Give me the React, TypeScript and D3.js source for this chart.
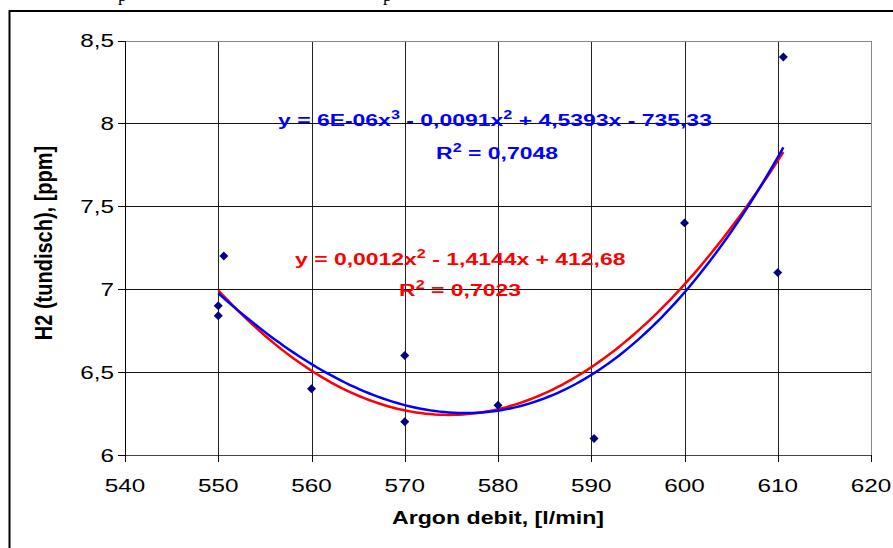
import React, { useEffect, useRef } from "react";
import * as d3 from "d3";

const argonFlow = [550, 550, 550.6, 560, 570, 570, 580, 590.3, 600, 610, 610.6];
const h2Values = [6.9, 6.84, 7.2, 6.4, 6.6, 6.2, 6.3, 6.1, 7.4, 7.1, 8.4];
const xTicks = [540, 550, 560, 570, 580, 590, 600, 610, 620];
const yTicks = [6, 6.5, 7, 7.5, 8, 8.5];
const yTickLabels = ["6", "6,5", "7", "7,5", "8", "8,5"];
const xTitle = "Argon debit, [l/min]";
const yTitle = "H2 (tundisch), [ppm]";

function polyFit(xs: number[], ys: number[], deg: number): number[] {
  const n = deg + 1;
  const x0 = 580;
  const A: number[][] = Array.from({ length: n }, () => new Array(n + 1).fill(0));
  xs.forEach((xv, i) => {
    const t = xv - x0;
    for (let r = 0; r < n; r++) {
      for (let c = 0; c < n; c++) A[r][c] += Math.pow(t, r + c);
      A[r][n] += ys[i] * Math.pow(t, r);
    }
  });
  for (let i = 0; i < n; i++) {
    let p = i;
    for (let k = i + 1; k < n; k++) if (Math.abs(A[k][i]) > Math.abs(A[p][i])) p = k;
    [A[i], A[p]] = [A[p], A[i]];
    for (let k = i + 1; k < n; k++) {
      const f = A[k][i] / A[i][i];
      for (let c = i; c <= n; c++) A[k][c] -= f * A[i][c];
    }
  }
  const coef = new Array(n).fill(0);
  for (let i = n - 1; i >= 0; i--) {
    let s = A[i][n];
    for (let c = i + 1; c < n; c++) s -= A[i][c] * coef[c];
    coef[i] = s / A[i][i];
  }
  return coef.concat([x0]);
}

function evalFit(coef: number[], xv: number) {
  const x0 = coef[coef.length - 1];
  const t = xv - x0;
  let s = 0;
  for (let i = 0; i < coef.length - 1; i++) s += coef[i] * Math.pow(t, i);
  return s;
}

export default function App() {
  const ref = useRef<SVGSVGElement>(null);
  useEffect(() => {
    const svg = d3.select(ref.current);
    svg.selectAll("*").remove();
    const x = d3.scaleLinear().domain([540, 620]).range([125, 871]);
    const y = d3.scaleLinear().domain([6, 8.5]).range([455, 40.5]);
    const font = "'Liberation Sans', Arial, sans-serif";

    const txt = (xp: number, yp: number, s: string, size: number, sx: number, anchor = "start", bold = false, color = "#000") =>
      svg.append("text").attr("transform", `translate(${xp},${yp}) scale(${sx},1)`)
        .attr("text-anchor", anchor).attr("font-family", font).attr("font-size", size)
        .attr("font-weight", bold ? "bold" : "normal").attr("fill", color).text(s);

    // top clipped text descenders (text from page above, cut off)
    svg.append("text").attr("x", 118).attr("y", 0.5).attr("font-family", "'Liberation Serif', 'Times New Roman', serif").attr("font-size", 18).text("p");
    svg.append("text").attr("x", 383).attr("y", 0.5).attr("font-family", "'Liberation Serif', 'Times New Roman', serif").attr("font-size", 18).text("p");

    // frame
    svg.append("rect").attr("x", 9.5).attr("y", 11).attr("width", 900).attr("height", 560)
      .attr("fill", "none").attr("stroke", "#000").attr("stroke-width", 2);

    // grid
    const g = svg.append("g").attr("shape-rendering", "crispEdges");
    xTicks.slice(1).forEach((t) => {
      g.append("line").attr("x1", Math.round(x(t)) + 0.5).attr("x2", Math.round(x(t)) + 0.5)
        .attr("y1", y(8.5)).attr("y2", y(6)).attr("stroke", "#222").attr("stroke-width", 1);
    });
    yTicks.slice(1).forEach((t) => {
      g.append("line").attr("x1", x(540)).attr("x2", x(620))
        .attr("y1", Math.round(y(t)) + 0.5).attr("y2", Math.round(y(t)) + 0.5).attr("stroke", "#111").attr("stroke-width", 1);
    });
    g.append("line").attr("x1", x(540)).attr("x2", x(620)).attr("y1", 41.5).attr("y2", 41.5).attr("stroke", "#888");
    g.append("line").attr("x1", 871.5).attr("x2", 871.5).attr("y1", 41).attr("y2", 455).attr("stroke", "#888");

    // axes
    g.append("line").attr("x1", 125.5).attr("x2", 125.5).attr("y1", 40.5).attr("y2", 455).attr("stroke", "#000");
    g.append("line").attr("x1", 125).attr("x2", 872).attr("y1", 455.5).attr("y2", 455.5).attr("stroke", "#444");
    yTicks.forEach((t) => {
      g.append("line").attr("x1", 118).attr("x2", 125).attr("y1", Math.round(y(t)) + 0.5).attr("y2", Math.round(y(t)) + 0.5).attr("stroke", "#000");
    });
    xTicks.forEach((t) => {
      g.append("line").attr("x1", Math.round(x(t)) + 0.5).attr("x2", Math.round(x(t)) + 0.5).attr("y1", 455).attr("y2", 462).attr("stroke", "#000");
    });

    // tick labels
    yTicks.forEach((t, i) => txt(114, y(t) + 6.5, yTickLabels[i], 18, 1.35, "end"));
    xTicks.forEach((t) => txt(x(t), 492, String(t), 18, 1.35, "middle"));

    // axis titles
    txt(498, 524, xTitle, 18.5, 1.25, "middle", true);
    svg.append("text").attr("transform", "translate(52,243) rotate(-90) scale(1,1.15)").attr("text-anchor", "middle")
      .attr("font-family", font).attr("font-size", 20).attr("font-weight", "bold").text(yTitle);

    // trendlines (least-squares polynomial fits of the points)
    const xmin = d3.min(argonFlow)!;
    const xmax = d3.max(argonFlow)!;
    const samples = d3.range(0, 121).map((i) => xmin + ((xmax - xmin) * i) / 120);
    const line = d3.line<number>().x((d) => x(d));
    const quad = polyFit(argonFlow, h2Values, 2);
    const cubic = polyFit(argonFlow, h2Values, 3);
    svg.append("path").attr("d", line.y((d) => y(evalFit(quad, d)))(samples)!)
      .attr("fill", "none").attr("stroke", "#ff0000").attr("stroke-width", 2.5);
    svg.append("path").attr("d", line.y((d) => y(evalFit(cubic, d)))(samples)!)
      .attr("fill", "none").attr("stroke", "#0000ff").attr("stroke-width", 2.5);

    // points
    const sym = d3.symbol().type(d3.symbolSquare).size(40);
    argonFlow.forEach((xv, i) => {
      svg.append("path").attr("d", sym()!).attr("fill", "#000080")
        .attr("transform", `translate(${x(xv)},${y(h2Values[i])}) rotate(45)`);
    });

    // equations
    const eq = (xp: number, yp: number, color: string, parts: [string, boolean][], anchor: string) => {
      const t = txt(xp, yp, "", 17, 1.35, anchor, true, color);
      parts.forEach(([s, sup], i) => {
        const dy = sup ? -7 : i > 0 && parts[i - 1][1] ? 7 : 0;
        t.append("tspan").attr("dy", dy).attr("font-size", sup ? 12 : 17).text(s);
      });
    };
    eq(278, 126, "#0000ff", [["y = 6E-06x", false], ["3", true], [" - 0,0091x", false], ["2", true], [" + 4,5393x - 735,33", false]], "start");
    eq(497, 159, "#0000ff", [["R", false], ["2", true], [" = 0,7048", false]], "middle");
    eq(295, 265, "#ff0000", [["y = 0,0012x", false], ["2", true], [" - 1,4144x + 412,68", false]], "start");
    eq(460, 296, "#ff0000", [["R", false], ["2", true], [" = 0,7023", false]], "middle");
  }, []);
  return (
    <svg ref={ref} width={893} height={548}
      style={{ position: "fixed", left: 0, top: 0, background: "#fff" }} />
  );
}
